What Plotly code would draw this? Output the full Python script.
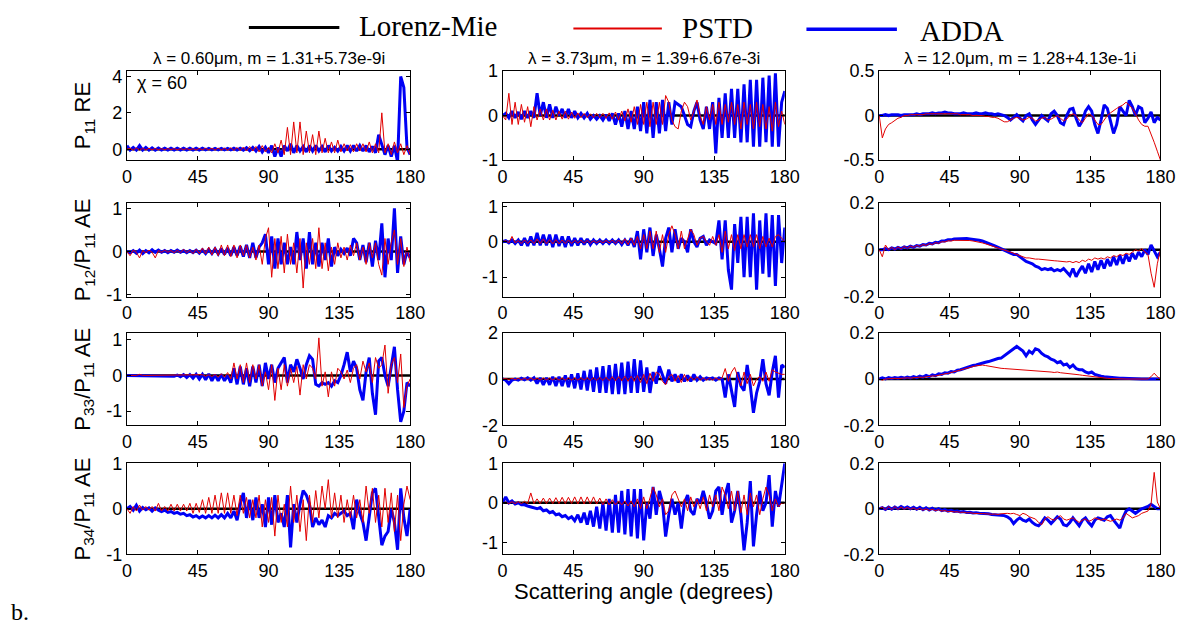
import plotly.graph_objects as go

# ---------------- data ----------------
ANGLE = list(range(0, 181, 2))          # scattering angle grid (degrees)
MIE_ANGLE = [0, 180]                    # Lorenz-Mie reference (error vs itself = 0)
MIE_ERR = [0.0, 0.0]

COL_TITLES = ["λ = 0.60μm, m = 1.31+5.73e-9i",
              "λ = 3.73μm, m = 1.39+6.67e-3i",
              "λ = 12.0μm, m = 1.28+4.13e-1i"]
ROW_TITLES = ["P<sub>11</sub> RE", "P<sub>12</sub>/P<sub>11</sub> AE",
              "P<sub>33</sub>/P<sub>11</sub> AE", "P<sub>34</sub>/P<sub>11</sub> AE"]
X_TICKS = [0, 45, 90, 135, 180]

# ---- row 1 : P11 relative error ----
p11_w060_pstd = [0.0, 0.05, -0.05, 0.08, -0.05, 0.05, -0.04, 0.05, -0.03, 0.04, -0.03,
                 0.03, -0.03, 0.03, -0.02, 0.03, -0.03, 0.03, -0.02, 0.03, -0.03,
                 0.03, -0.04, 0.04, -0.03, 0.05, -0.04, 0.05, -0.05, 0.06, -0.05,
                 0.06, -0.06, 0.08, -0.07, 0.1, -0.08, 0.12, -0.1, 0.15, -0.1,
                 0.15, -0.15, 0.2, -0.15, 0.1, -0.2, 0.3, -0.2, 0.5, -0.3,
                 1.2, -0.3, 1.5, -0.2, 1.5, -0.3, 1.0, -0.2, 0.8, -0.3,
                 1.0, -0.2, 0.6, -0.2, 0.4, -0.2, 0.5, -0.15, 0.3, -0.1,
                 0.25, -0.15, 0.3, -0.1, 0.3, -0.15, 0.4, -0.2, 0.3, -0.2,
                 2.0, -0.2, 0.3, -0.3, 0.4, -0.2, 0.3, -0.3, 0.2, -0.3]
p11_w060_adda = [0.2, -0.05, 0.1, -0.05, 0.2, -0.05, 0.1, -0.05, 0.08, -0.05, 0.06,
                 -0.04, 0.05, -0.04, 0.05, -0.04, 0.05, -0.04, 0.05, -0.04, 0.05,
                 -0.04, 0.05, -0.04, 0.05, -0.04, 0.04, -0.04, 0.04, -0.04, 0.04,
                 -0.04, 0.04, -0.04, 0.05, -0.05, 0.05, -0.05, 0.08, -0.08, 0.1,
                 -0.1, 0.15, -0.15, 0.1, -0.2, 0.2, -0.4, 0.1, -0.4, 0.2,
                 -0.1, 0.3, -0.2, 0.2, -0.1, 0.15, -0.15, 0.2, -0.1, 0.2,
                 -0.1, 0.15, -0.15, 0.2, -0.1, 0.1, -0.1, 0.15, -0.1, 0.2,
                 -0.1, 0.2, -0.1, 0.2, -0.1, 0.2, -0.15, 0.15, -0.2, 0.8,
                 0.3, -0.3, 0.2, -0.4, 0.2, -0.7, 4.0, 3.4, 0.1, -0.3]
p11_w373_pstd = [0.0, -0.1, 0.5, -0.2, 0.3, -0.2, 0.25, -0.15, 0.2, -0.25, 0.2,
                 -0.1, 0.15, -0.1, 0.15, -0.1, 0.12, -0.1, 0.1, -0.08, 0.1,
                 -0.08, 0.08, -0.06, 0.06, -0.05, 0.05, -0.05, 0.04, -0.05, 0.05,
                 -0.05, 0.05, -0.06, 0.06, -0.08, 0.08, -0.1, 0.1, -0.12, 0.15,
                 -0.15, 0.2, -0.2, 0.25, -0.2, 0.3, -0.25, 0.3, -0.2, 0.3,
                 -0.2, 0.45, 0.3, -0.1, -0.25, -0.3, 0.1, 0.3, 0.2, -0.1,
                 0.1, 0.35, 0.0, -0.2, 0.2, -0.1, 0.25, -0.2, 0.3, -0.2,
                 0.25, -0.15, 0.3, -0.2, 0.25, -0.3, 0.3, -0.2, 0.25, -0.3,
                 0.3, -0.25, 0.25, -0.3, 0.2, -0.35, 0.3, -0.25, 0.1, -0.2]
p11_w373_adda = [0.0, 0.05, -0.05, 0.1, -0.05, 0.08, -0.08, 0.1, -0.05, 0.1, -0.05,
                 0.5, 0.0, 0.3, -0.05, 0.25, -0.05, 0.2, 0.0, 0.15, -0.05,
                 0.15, -0.05, 0.1, -0.05, 0.05, -0.05, 0.05, -0.08, 0.0, -0.08,
                 0.0, -0.1, 0.02, -0.12, 0.05, -0.2, 0.05, -0.25, 0.1, -0.3,
                 0.1, -0.3, 0.2, -0.35, 0.3, -0.4, 0.35, -0.5, 0.3, -0.4,
                 0.35, -0.35, 0.3, -0.2, 0.3, 0.25, 0.2, 0.0, -0.2, -0.25,
                 0.1, 0.3, -0.1, -0.3, 0.2, -0.3, 0.3, -0.85, 0.4, -0.5,
                 0.5, -0.5, 0.6, -0.5, 0.6, -0.6, 0.7, -0.6, 0.8, -0.7,
                 0.8, -0.7, 0.85, -0.6, 0.9, -0.7, 0.95, -0.7, 0.3, 0.55]
p11_w120_pstd = [0.0, -0.25, -0.15, -0.1, -0.08, -0.05, -0.03, -0.02, 0.0, 0.0, 0.01,
                 0.01, 0.01, 0.01, 0.01, 0.02, 0.02, 0.02, 0.02, 0.02, 0.02,
                 0.02, 0.02, 0.02, 0.02, 0.02, 0.01, 0.01, 0.01, 0.01, 0.0,
                 0.0, 0.0, 0.0, -0.01, -0.01, -0.02, -0.02, -0.03, -0.05, -0.07,
                 -0.07, -0.05, -0.03, -0.02, -0.03, -0.05, -0.04, -0.02, -0.03, -0.06,
                 -0.05, -0.03, -0.02, -0.05, -0.04, -0.02, 0.0, -0.03, -0.06, -0.04,
                 0.0, 0.02, 0.0, -0.05, -0.08, -0.03, 0.02, 0.0, -0.05, -0.1,
                 -0.1, -0.05, 0.0, 0.03, 0.06, 0.08, 0.1, 0.12, 0.15, 0.12,
                 0.08, 0.02, -0.05, -0.1, -0.12, -0.12, -0.2, -0.3, -0.4, -0.5]
p11_w120_adda = [0.0, 0.0, 0.01, 0.0, 0.01, 0.01, 0.01, 0.0, 0.01, 0.01, 0.01,
                 0.01, 0.02, 0.01, 0.02, 0.02, 0.02, 0.03, 0.02, 0.03, 0.03,
                 0.04, 0.03, 0.03, 0.02, 0.02, 0.02, 0.03, 0.02, 0.02, 0.02,
                 0.03, 0.02, 0.02, 0.03, 0.02, 0.02, 0.01, 0.02, 0.01, 0.0,
                 -0.02, -0.05, -0.02, 0.01, -0.03, -0.06, 0.0, 0.02, -0.05, -0.1,
                 -0.05, 0.0, -0.03, -0.06, 0.02, 0.05, 0.0, -0.08, -0.1, 0.0,
                 0.07, 0.08, -0.03, -0.12, -0.06, 0.05, 0.1, 0.05, -0.1, -0.2,
                 -0.05, 0.12, 0.08, -0.05, -0.2, -0.1, 0.1, 0.05, 0.0, 0.17,
                 0.1, 0.0, 0.1, 0.08, -0.08, -0.03, 0.04, -0.08, -0.02, -0.05]

# ---- row 2 : P12/P11 absolute error ----
p12_w060_pstd = [0.0, -0.1, 0.03, -0.02, -0.15, 0.02, -0.03, 0.03, -0.02, -0.15, 0.02,
                 -0.02, 0.03, -0.02, 0.02, -0.03, 0.03, -0.03, 0.05, -0.03, 0.03,
                 -0.05, 0.05, -0.05, 0.08, -0.06, 0.1, -0.08, 0.1, -0.1, 0.15,
                 -0.1, 0.15, -0.12, 0.15, -0.15, 0.15, -0.1, 0.15, -0.15, 0.1,
                 -0.2, 0.15, -0.3, 0.3, 0.55, -0.6, 0.3, -0.4, 0.35, -0.5,
                 0.4, -0.3, 0.2, -0.5, 0.3, -0.85, 0.2, -0.3, 0.3, -0.4,
                 0.55, -0.4, 0.2, -0.45, 0.1, -0.3, 0.2, -0.15, 0.1, -0.2,
                 0.15, -0.1, 0.2, -0.2, 0.1, -0.3, 0.2, -0.15, 0.2, -0.3,
                 -0.55, 0.3, -0.3, 0.2, 0.5, -0.3, 0.3, -0.35, 0.1, -0.25]
p12_w060_adda = [0.0, -0.03, 0.02, -0.04, 0.03, -0.05, 0.02, -0.03, 0.04, -0.02, 0.03,
                 -0.02, 0.02, -0.03, 0.02, -0.02, 0.03, -0.02, 0.02, -0.03, 0.02,
                 -0.03, 0.03, -0.04, 0.04, -0.05, 0.05, -0.05, 0.06, -0.06, 0.07,
                 -0.07, 0.08, -0.1, 0.1, -0.1, 0.12, -0.12, 0.15, -0.15, 0.2,
                 -0.15, 0.1, 0.2, 0.4, -0.3, 0.35, -0.4, 0.3, -0.3, 0.2,
                 -0.3, 0.1, -0.3, 0.45, -0.2, 0.3, -0.4, 0.45, -0.3, 0.2,
                 -0.35, 0.2, -0.2, 0.3, -0.35, 0.1, -0.1, 0.05, -0.05, 0.08,
                 -0.1, 0.3, 0.2, -0.2, 0.15, -0.25, 0.2, -0.35, 0.25, -0.2,
                 0.65, -0.6, 0.3, -0.2, 1.0, -0.5, 0.35, -0.3, 0.0, -0.15]
p12_w373_pstd = [0.0, 0.03, -0.03, 0.15, -0.03, 0.03, -0.05, 0.05, -0.05, 0.05, -0.05,
                 0.08, -0.05, 0.08, -0.06, 0.06, -0.06, 0.06, -0.06, 0.05, -0.05,
                 0.05, -0.05, 0.04, -0.04, 0.04, -0.04, 0.04, -0.04, 0.03, -0.03,
                 0.03, -0.03, 0.04, -0.04, 0.05, -0.05, 0.05, -0.06, 0.08, -0.08,
                 0.1, -0.1, 0.15, -0.2, 0.2, -0.2, 0.3, -0.2, 0.3, -0.3,
                 0.2, -0.3, 0.2, 0.45, 0.2, -0.2, 0.3, -0.2, 0.1, 0.35,
                 0.2, -0.1, 0.1, 0.15, 0.0, -0.1, 0.15, -0.1, 0.2, -0.3,
                 0.3, -0.2, 0.2, -0.25, 0.2, -0.2, 0.2, -0.15, 0.2, -0.15,
                 0.2, -0.2, 0.15, -0.15, 0.1, -0.15, 0.15, 0.2, 0.1, 0.0]
p12_w373_adda = [0.0, 0.03, -0.03, 0.05, -0.05, 0.05, -0.1, 0.1, -0.12, 0.15, -0.1,
                 0.25, -0.1, 0.2, -0.1, 0.2, -0.15, 0.2, -0.12, 0.15, -0.15,
                 0.15, -0.12, 0.1, -0.1, 0.1, -0.08, 0.08, -0.08, 0.05, -0.05,
                 0.05, -0.05, 0.05, -0.05, 0.05, -0.05, 0.05, -0.08, 0.05, -0.1,
                 0.1, -0.15, 0.3, -0.5, 0.35, -0.3, 0.4, -0.4, 0.2, -0.2,
                 -0.7, 0.1, 0.4, -0.3, 0.35, -0.2, 0.1, 0.0, -0.3, 0.35,
                 0.0, -0.15, 0.1, 0.15, -0.1, 0.05, 0.0, -0.05, 0.6, -0.5,
                 0.6, -0.8, -1.35, 0.5, -0.6, 0.7, -1.0, 0.7, -1.0, 0.8,
                 -1.35, 0.6, -0.9, 0.8, -1.0, 0.75, -1.25, 0.75, -0.6, 0.4]
p12_w120_pstd = [0.0, -0.03, 0.02, 0.0, 0.01, 0.0, 0.012, 0.003, 0.014, 0.006, 0.016,
                 0.01, 0.018, 0.014, 0.022, 0.018, 0.026, 0.022, 0.03, 0.027, 0.034,
                 0.033, 0.038, 0.037, 0.04, 0.04, 0.041, 0.041, 0.04, 0.039, 0.037,
                 0.035, 0.032, 0.029, 0.025, 0.021, 0.017, 0.012, 0.008, 0.003, -0.002,
                 -0.006, -0.01, -0.015, -0.02, -0.025, -0.03, -0.035, -0.035, -0.038, -0.04,
                 -0.04, -0.042, -0.043, -0.045, -0.045, -0.047, -0.048, -0.05, -0.05, -0.052,
                 -0.05, -0.055, -0.05, -0.055, -0.045, -0.05, -0.04, -0.045, -0.035, -0.04,
                 -0.035, -0.04, -0.03, -0.035, -0.025, -0.03, -0.02, -0.025, -0.015, -0.02,
                 -0.01, 0.0, -0.005, 0.005, -0.01, -0.02, -0.1, -0.16, -0.06, 0.0]
p12_w120_adda = [0.0, 0.0, 0.005, 0.0, 0.008, 0.003, 0.01, 0.005, 0.012, 0.008, 0.015,
                 0.01, 0.018, 0.015, 0.022, 0.02, 0.027, 0.025, 0.032, 0.03, 0.037,
                 0.037, 0.042, 0.042, 0.046, 0.047, 0.049, 0.048, 0.048, 0.046, 0.045,
                 0.043, 0.04, 0.037, 0.033, 0.028, 0.022, 0.016, 0.01, 0.004, -0.003,
                 -0.008, -0.012, -0.02, -0.02, -0.03, -0.04, -0.05, -0.055, -0.06, -0.07,
                 -0.075, -0.085, -0.08, -0.085, -0.08, -0.09, -0.085, -0.09, -0.08, -0.095,
                 -0.11, -0.08, -0.115, -0.09, -0.07, -0.1, -0.06, -0.095, -0.05, -0.085,
                 -0.045, -0.08, -0.04, -0.07, -0.03, -0.065, -0.025, -0.06, -0.02, -0.05,
                 -0.015, -0.04, -0.01, -0.03, 0.0, -0.02, 0.02, -0.005, -0.03, -0.01]

# ---- row 3 : P33/P11 absolute error ----
p33_w060_pstd = [0.0, 0.0, 0.0, 0.0, 0.03, 0.0, 0.0, 0.0, 0.0, 0.0, 0.0,
                 0.0, 0.0, 0.0, 0.0, 0.0, 0.01, 0.0, 0.01, 0.0, 0.01,
                 0.0, 0.02, 0.0, 0.02, -0.02, 0.02, -0.03, 0.03, -0.05, 0.05,
                 -0.05, 0.08, -0.1, 0.35, -0.1, 0.3, -0.2, 0.35, -0.2, 0.3,
                 -0.1, 0.3, -0.3, 0.1, -0.4, 0.3, -0.7, 0.2, -0.4, 0.3,
                 -0.3, 0.2, -0.2, 0.25, -0.55, 0.3, -0.1, 0.3, 0.2, -0.1,
                 1.05, -0.3, 0.1, -0.6, 0.1, -0.3, 0.2, 0.1, -0.1, 0.15,
                 -0.2, 0.2, 0.3, -0.1, 0.4, 0.1, 0.35, -0.2, 0.5, 0.2,
                 0.3, 0.85, -0.5, 0.3, 0.5, -0.2, 0.6, -0.9, -0.3, -0.1]
p33_w060_adda = [0.0, 0.0, 0.0, 0.0, 0.0, 0.0, 0.0, 0.0, 0.0, 0.0, 0.0,
                 0.0, 0.0, 0.0, 0.0, -0.02, 0.01, -0.04, 0.02, -0.06, 0.02,
                 -0.08, 0.03, -0.1, 0.03, -0.12, 0.04, -0.15, 0.02, -0.15, 0.03,
                 -0.15, 0.0, -0.2, 0.2, -0.25, 0.25, -0.25, 0.2, -0.3, 0.25,
                 -0.2, 0.3, -0.3, 0.35, -0.1, 0.3, -0.2, 0.2, 0.35, 0.5,
                 -0.2, 0.3, 0.1, 0.45, 0.2, -0.1, 0.3, 0.55, 0.45, -0.25,
                 -0.3, -0.2, -0.25, -0.2, -0.3, -0.15, -0.2, 0.0, 0.3, 0.65,
                 0.1, 0.4, 0.2, -0.4, -0.7, 0.1, 0.5, -0.5, -1.1, 0.4,
                 0.5, 0.0, -0.3, 0.3, 0.8, -0.4, -1.3, -1.0, -0.2, -0.3]
p33_w373_pstd = [0.0, 0.02, -0.02, 0.03, -0.03, 0.03, -0.03, 0.03, -0.03, 0.04, -0.04,
                 0.04, -0.04, 0.04, -0.04, 0.04, -0.04, 0.05, -0.05, 0.05, -0.05,
                 0.05, -0.05, 0.05, -0.05, 0.06, -0.05, 0.06, -0.06, 0.06, -0.06,
                 0.07, -0.06, 0.08, -0.07, 0.1, -0.08, 0.1, -0.08, 0.12, -0.1,
                 0.12, -0.1, 0.15, -0.15, 0.2, -0.2, 0.25, -0.1, 0.3, 0.2,
                 -0.1, -0.25, 0.1, 0.2, -0.1, 0.15, -0.15, 0.2, -0.1, 0.1,
                 -0.05, 0.1, -0.05, 0.05, -0.05, 0.05, -0.05, 0.05, -0.03, 0.05,
                 0.45, -0.1, 0.3, 0.5, 0.1, -0.3, 0.3, -0.2, 0.2, -0.3,
                 0.0, 0.1, -0.1, 0.3, -0.1, 0.4, 0.3, 0.25, 0.2, 0.2]
p33_w373_adda = [0.0, -0.05, -0.2, -0.05, 0.0, -0.05, 0.03, -0.03, 0.05, -0.05, 0.05,
                 -0.2, 0.05, -0.25, 0.05, -0.25, 0.1, -0.3, 0.1, -0.3, 0.15,
                 -0.35, 0.2, -0.4, 0.25, -0.45, 0.35, -0.5, 0.4, -0.55, 0.5,
                 -0.6, 0.55, -0.6, 0.6, -0.65, 0.65, -0.65, 0.7, -0.65, 0.75,
                 -0.6, 0.85, -0.6, 0.8, -0.55, 0.5, -0.6, 0.3, -0.2, 0.55,
                 0.2, -0.2, 0.4, -0.1, 0.2, -0.15, 0.2, -0.1, 0.15, -0.1,
                 0.2, -0.05, 0.1, -0.05, 0.05, 0.0, 0.05, -0.05, 0.05, 0.0,
                 -0.8, 0.2, -0.5, -1.2, 0.3, -0.3, -0.5, 0.6, -0.3, -1.45,
                 -0.6, -0.1, 0.85, -0.2, -0.7, 0.3, 1.0, -0.8, 0.6, 0.5]
p33_w120_pstd = [0.0, -0.005, 0.0, 0.002, 0.001, 0.003, 0.002, 0.004, 0.003, 0.005, 0.004,
                 0.006, 0.005, 0.008, 0.007, 0.01, 0.01, 0.013, 0.013, 0.017, 0.018,
                 0.022, 0.024, 0.028, 0.032, 0.036, 0.04, 0.044, 0.048, 0.052, 0.055,
                 0.057, 0.058, 0.06, 0.058, 0.055, 0.052, 0.05, 0.048, 0.046, 0.045,
                 0.044, 0.043, 0.042, 0.044, 0.04, 0.042, 0.038, 0.04, 0.037, 0.036,
                 0.035, 0.034, 0.032, 0.033, 0.03, 0.028, 0.03, 0.027, 0.026, 0.025,
                 0.024, 0.022, 0.02, 0.018, 0.016, 0.014, 0.012, 0.01, 0.008, 0.006,
                 0.005, 0.004, 0.003, 0.002, 0.001, 0.0, 0.0, 0.0, 0.0, 0.0,
                 0.0, 0.0, 0.0, 0.0, 0.0, 0.0, 0.01, 0.025, 0.01, 0.0]
p33_w120_adda = [0.0, 0.005, 0.0, 0.006, 0.002, 0.006, 0.003, 0.007, 0.004, 0.008, 0.005,
                 0.01, 0.006, 0.012, 0.008, 0.015, 0.01, 0.018, 0.014, 0.022, 0.02,
                 0.027, 0.025, 0.032, 0.03, 0.038, 0.04, 0.045, 0.048, 0.052, 0.058,
                 0.06, 0.065, 0.068, 0.072, 0.075, 0.08, 0.085, 0.088, 0.09, 0.1,
                 0.11, 0.12, 0.13, 0.14, 0.13, 0.12, 0.1, 0.12, 0.11, 0.13,
                 0.125, 0.11, 0.1, 0.095, 0.085, 0.08, 0.07, 0.075, 0.06, 0.065,
                 0.05, 0.06, 0.045, 0.04, 0.04, 0.03, 0.025, 0.03, 0.02, 0.015,
                 0.012, 0.01, 0.008, 0.006, 0.005, 0.004, 0.003, 0.003, 0.002, 0.002,
                 0.001, 0.001, 0.0, 0.0, 0.0, 0.0, 0.0, 0.0, 0.0, 0.0]

# ---- row 4 : P34/P11 absolute error ----
p34_w060_pstd = [0.0, -0.1, 0.05, -0.05, 0.08, -0.03, 0.05, -0.03, 0.05, -0.05, 0.12,
                 -0.05, 0.05, -0.05, 0.1, -0.05, 0.1, -0.05, 0.1, -0.05, 0.12,
                 -0.1, 0.12, -0.08, 0.2, -0.1, 0.25, -0.1, 0.3, -0.1, 0.35,
                 -0.1, 0.35, -0.1, 0.3, -0.15, 0.3, -0.1, 0.25, -0.2, 0.2,
                 -0.2, 0.3, -0.4, 0.2, -0.3, 0.25, -0.6, 0.3, -0.3, 0.1,
                 -0.4, 0.5, -0.3, 0.3, -0.5, 0.2, -0.7, 0.3, -0.3, 0.4,
                 -0.2, 0.5, 0.0, 0.64, -0.2, 0.35, -0.2, 0.3, -0.3, 0.2,
                 -0.2, 0.3, -0.2, 0.2, -0.3, 0.5, -0.1, 0.45, -0.3, 0.3,
                 -0.4, 0.45, -0.3, 0.35, -0.5, 0.3, -0.7, 0.1, 0.5, 0.2]
p34_w060_adda = [0.0, 0.05, -0.03, 0.08, -0.05, 0.03, -0.02, 0.02, -0.05, 0.02, -0.03,
                 -0.06, -0.03, -0.08, -0.06, -0.1, -0.08, -0.12, -0.1, -0.15, -0.13,
                 -0.18, -0.15, -0.2, -0.16, -0.2, -0.15, -0.2, -0.14, -0.2, -0.13,
                 -0.2, -0.1, -0.2, -0.05, -0.25, 0.1, 0.35, -0.2, 0.2, -0.25,
                 0.25, -0.2, 0.1, -0.4, 0.25, -0.35, 0.3, -0.3, -0.1, -0.4,
                 0.3, -0.85, 0.1, -0.3, 0.1, 0.4, 0.3, 0.1, -0.4, -0.2,
                 -0.35, -0.25, -0.4, -0.15, -0.2, -0.1, -0.15, -0.1, -0.05, -0.15,
                 -0.1, -0.45, 0.2, -0.1, -0.3, -0.7, -0.2, 0.35, 0.45, -0.2,
                 -0.8, -0.6, -0.5, 0.0, -0.3, -0.9, 0.45, -0.2, -0.6, 0.0]
p34_w373_pstd = [0.0, 0.02, -0.02, 0.03, -0.02, 0.03, -0.02, 0.04, -0.02, 0.25, -0.02,
                 0.1, -0.02, 0.12, -0.02, 0.12, -0.02, 0.13, -0.02, 0.14, -0.02,
                 0.14, -0.02, 0.15, -0.03, 0.15, -0.03, 0.15, -0.03, 0.15, -0.03,
                 0.12, -0.05, 0.1, -0.05, 0.08, -0.05, 0.05, -0.05, 0.05, -0.08,
                 0.05, -0.1, 0.1, -0.15, 0.15, -0.15, 0.1, 0.4, 0.2, -0.1,
                 0.1, -0.3, -0.2, 0.2, 0.3, 0.1, -0.1, 0.1, -0.2, 0.15,
                 -0.1, 0.1, -0.15, 0.15, -0.2, 0.2, -0.1, 0.2, -0.2, 0.4,
                 0.2, -0.15, 0.3, -0.2, 0.3, -0.25, 0.2, -0.3, 0.25, -0.1,
                 0.2, -0.3, 0.1, 0.4, 0.2, -0.2, 0.1, -0.1, 0.0, 0.0]
p34_w373_adda = [0.0, 0.15, 0.0, 0.05, -0.03, 0.0, -0.05, -0.05, -0.08, -0.1, -0.12,
                 -0.15, -0.12, -0.2, -0.18, -0.25, -0.22, -0.3, -0.28, -0.35, -0.32,
                 -0.4, -0.35, -0.45, -0.3, -0.5, -0.25, -0.55, -0.2, -0.6, -0.1,
                 -0.65, 0.0, -0.7, 0.1, -0.75, 0.2, -0.75, 0.3, -0.8, 0.35,
                 -0.85, 0.35, -0.9, 0.35, -0.95, 0.0, -0.4, 0.4, -0.3, 0.3,
                 0.0, -0.85, -0.3, 0.1, -0.3, 0.0, -0.65, 0.0, 0.2, -0.2,
                 -0.3, 0.1, 0.0, 0.3, 0.0, -0.4, -0.2, 0.3, 0.4, -0.3,
                 0.2, 0.5, -0.5, -0.2, 0.3, -0.3, -1.2, -0.5, 0.55, -1.1,
                 -0.3, 0.3, -0.2, 0.0, 0.7, -0.6, 0.3, -0.1, 0.5, 1.0]
p34_w120_pstd = [0.0, 0.008, -0.005, 0.01, -0.004, 0.01, -0.003, 0.008, -0.002, 0.006, -0.002,
                 0.004, -0.004, 0.002, -0.006, 0.0, -0.007, -0.002, -0.008, -0.004, -0.01,
                 -0.008, -0.012, -0.011, -0.014, -0.013, -0.016, -0.015, -0.018, -0.017, -0.02,
                 -0.019, -0.021, -0.021, -0.023, -0.022, -0.024, -0.023, -0.025, -0.022, -0.02,
                 -0.02, -0.022, -0.02, -0.025, -0.03, -0.02, -0.025, -0.035, -0.04, -0.045,
                 -0.06, -0.07, -0.045, -0.035, -0.045, -0.05, -0.04, -0.03, -0.045, -0.05,
                 -0.045, -0.04, -0.05, -0.06, -0.05, -0.045, -0.055, -0.05, -0.04, -0.045,
                 -0.05, -0.045, -0.05, -0.055, -0.05, -0.045, -0.05, -0.04, -0.02, -0.03,
                 -0.04, -0.035, -0.03, -0.02, -0.015, -0.01, 0.02, 0.16, 0.03, 0.0]
p34_w120_adda = [0.0, 0.005, -0.003, 0.007, -0.002, 0.008, 0.0, 0.01, 0.002, 0.008, 0.0,
                 0.007, -0.002, 0.006, -0.004, 0.004, -0.005, 0.002, -0.006, 0.0, -0.008,
                 -0.004, -0.01, -0.007, -0.012, -0.01, -0.014, -0.012, -0.016, -0.015, -0.018,
                 -0.017, -0.02, -0.02, -0.022, -0.022, -0.025, -0.025, -0.028, -0.028, -0.03,
                 -0.035, -0.045, -0.065, -0.05, -0.04, -0.05, -0.055, -0.045, -0.06, -0.07,
                 -0.075, -0.06, -0.04, -0.05, -0.065, -0.05, -0.035, -0.045, -0.07, -0.075,
                 -0.06, -0.04, -0.06, -0.075, -0.05, -0.04, -0.06, -0.075, -0.05, -0.04,
                 -0.045, -0.05, -0.035, -0.03, -0.05, -0.07, -0.085, -0.04, -0.01, 0.0,
                 -0.01, -0.02, -0.01, 0.0, 0.005, 0.01, 0.02, 0.01, 0.0, 0.0]

# y-axis limits and ticks per panel (row-major)
Y_RANGES = [[-0.6, 4.3], [-1, 1], [-0.5, 0.5],
            [-1.05, 1.13], [-1.55, 1.1], [-0.2, 0.2],
            [-1.4, 1.2], [-2, 2], [-0.2, 0.2],
            [-1, 1], [-1.3, 1], [-0.2, 0.2]]
Y_TICKS = [[0, 2, 4], [-1, 0, 1], [-0.5, 0, 0.5],
           [-1, 0, 1], [-1, 0, 1], [-0.2, 0, 0.2],
           [-1, 0, 1], [-2, 0, 2], [-0.2, 0, 0.2],
           [-1, 0, 1], [-1, 0, 1], [-0.2, 0, 0.2]]

PSTD = [p11_w060_pstd, p11_w373_pstd, p11_w120_pstd,
        p12_w060_pstd, p12_w373_pstd, p12_w120_pstd,
        p33_w060_pstd, p33_w373_pstd, p33_w120_pstd,
        p34_w060_pstd, p34_w373_pstd, p34_w120_pstd]
ADDA = [p11_w060_adda, p11_w373_adda, p11_w120_adda,
        p12_w060_adda, p12_w373_adda, p12_w120_adda,
        p33_w060_adda, p33_w373_adda, p33_w120_adda,
        p34_w060_adda, p34_w373_adda, p34_w120_adda]
for i, (a, b) in enumerate(zip(PSTD, ADDA)):
    assert len(a) == len(ANGLE), ("pstd", i, len(a))
    assert len(b) == len(ANGLE), ("adda", i, len(b))

# ---------------- layout ----------------
W, H = 1202, 635
COL_PX = [(124, 412), (506, 793), (889, 1175)]
ROW_PX = [(63, 155), (199, 296), (333, 429), (468, 562)]
FONT = "Liberation Sans, Arial, sans-serif"
SERIF = "Liberation Serif, Times New Roman, serif"
RED = "rgb(225,0,0)"
BLUE = "rgb(0,0,245)"


def fmt(v):
    return "%g" % v


fig = go.Figure()
layout = dict(width=W, height=H, margin=dict(l=0, r=0, t=0, b=0), autosize=False,
              paper_bgcolor="white", plot_bgcolor="white", showlegend=False,
              font=dict(family=FONT, color="black"))
annotations = []
shapes = []

for r in range(4):
    for c in range(3):
        k = r * 3 + c
        n = k + 1
        xs = "" if n == 1 else str(n)
        xref, yref = "x" + xs, "y" + xs
        fig.add_trace(go.Scatter(x=MIE_ANGLE, y=MIE_ERR, mode="lines", xaxis=xref, yaxis=yref,
                                 line=dict(color="black", width=2.5), name="Lorenz-Mie"))
        fig.add_trace(go.Scatter(x=ANGLE, y=ADDA[k], mode="lines", xaxis=xref, yaxis=yref,
                                 line=dict(color=BLUE, width=3), name="ADDA"))
        fig.add_trace(go.Scatter(x=ANGLE, y=PSTD[k], mode="lines", xaxis=xref, yaxis=yref,
                                 line=dict(color=RED, width=1), name="PSTD"))
        x0, x1 = COL_PX[c]
        y0, y1 = ROW_PX[r]
        common = dict(showline=True, linecolor="black", linewidth=1, mirror="ticks",
                      ticks="inside", ticklen=4, tickcolor="black", showgrid=False,
                      zeroline=False, tickfont=dict(family=FONT, size=18, color="black"))
        layout["xaxis" + xs] = dict(domain=[x0 / W, x1 / W], range=[0, 180], anchor=yref,
                                    tickvals=X_TICKS, ticktext=[str(t) for t in X_TICKS], **common)
        layout["yaxis" + xs] = dict(domain=[1 - y1 / H, 1 - y0 / H], range=Y_RANGES[k], anchor=xref,
                                    tickvals=Y_TICKS[k], ticktext=[fmt(t) for t in Y_TICKS[k]], **common)

# column titles
for c in range(3):
    x0, x1 = COL_PX[c]
    annotations.append(dict(text=COL_TITLES[c], x=(x0 + x1) / 2 / W, y=1 - 50 / H, xref="paper", yref="paper",
                            showarrow=False, xanchor="center", yanchor="middle",
                            font=dict(family=FONT, size=17, color="black")))
# row titles
for r in range(4):
    y0, y1 = ROW_PX[r]
    annotations.append(dict(text=ROW_TITLES[r], x=80 / W, y=1 - (y0 + y1) / 2 / H, xref="paper", yref="paper",
                            showarrow=False, textangle=-90, xanchor="center", yanchor="middle",
                            font=dict(family=FONT, size=22, color="black")))
# chi label
annotations.append(dict(text="χ = 60", x=132 / W, y=1 - 75 / H, xref="paper", yref="paper", showarrow=False,
                        xanchor="left", yanchor="middle", font=dict(family=FONT, size=18, color="black")))
# x axis title
annotations.append(dict(text="Scattering angle (degrees)", x=(506 + 793) / 2 / W, y=1 - 600 / H,
                        xref="paper", yref="paper", showarrow=False, xanchor="center", yanchor="middle",
                        font=dict(family=FONT, size=22, color="black")))
# panel tag
annotations.append(dict(text="b.", x=4 / W, y=1 - 622 / H, xref="paper", yref="paper", showarrow=False,
                        xanchor="left", yanchor="middle", font=dict(family=SERIF, size=24, color="black")))

# legend (drawn manually, as in the figure header)
LEG = [("Lorenz-Mie", "black", 3, 248, 340, 18, 358, 17),
       ("PSTD", RED, 2, 578, 668, 19, 686, 19),
       ("ADDA", BLUE, 3.5, 815, 907, 20, 928, 22)]
for name, col, lw, lx0, lx1, ly, tx, ty in LEG:
    shapes.append(dict(type="line", xref="paper", yref="paper", x0=lx0 / W, x1=lx1 / W,
                       y0=1 - ly / H, y1=1 - ly / H, line=dict(color=col, width=lw)))
    annotations.append(dict(text=name, x=tx / W, y=1 - ty / H, xref="paper", yref="paper", showarrow=False,
                            xanchor="left", yanchor="middle", font=dict(family=SERIF, size=29, color="black")))

layout["annotations"] = annotations
layout["shapes"] = shapes
fig.update_layout(**layout)
fig.write_html("out.html")
